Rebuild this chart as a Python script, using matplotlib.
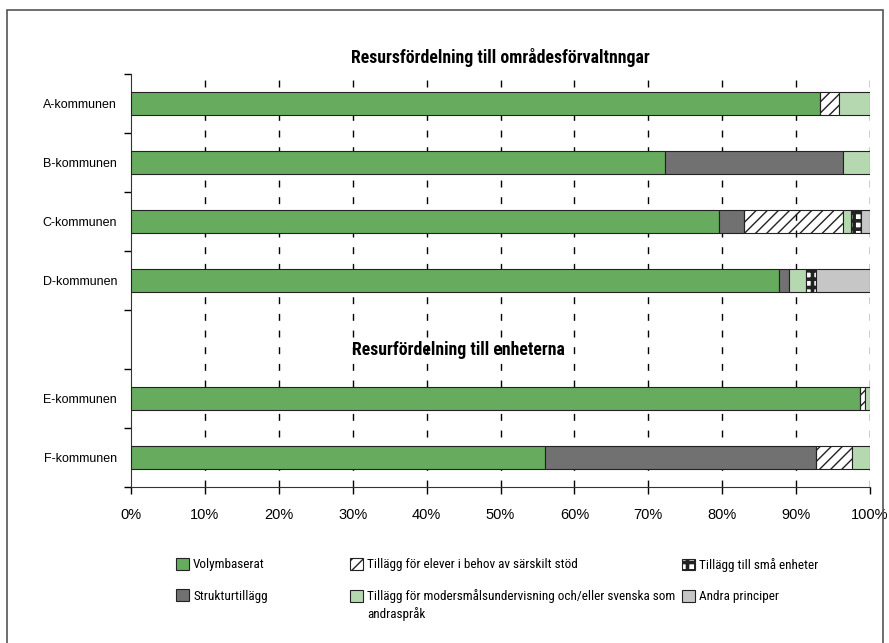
import matplotlib
matplotlib.use("Agg")
import matplotlib.pyplot as plt
from matplotlib.patches import Patch, Rectangle
from matplotlib.font_manager import findfont, FontProperties

# categories (row 4 is the empty spacer row holding the second heading)
kommuner = ["A-kommunen", "B-kommunen", "C-kommunen", "D-kommunen", "", "E-kommunen", "F-kommunen"]

# shares in percent, one list per principle
volym = [93.2, 72.3, 79.5, 87.7, 0, 98.7, 56.0]
struktur = [0.0, 24.0, 3.5, 1.3, 0, 0.0, 36.7]
sarskilt_stod = [2.6, 0.0, 13.3, 0.0, 0, 0.6, 4.9]
modersmal = [4.2, 3.7, 1.1, 2.4, 0, 0.7, 2.4]
sma_enheter = [0.0, 0.0, 1.4, 1.3, 0, 0.0, 0.0]
andra = [0.0, 0.0, 1.2, 7.3, 0, 0.0, 0.0]

serier = [
    ("Volymbaserat", volym),
    ("Strukturtillägg", struktur),
    ("Tillägg för elever i behov av särskilt stöd", sarskilt_stod),
    ("Tillägg för modersmålsundervisning och/eller svenska som", modersmal),
    ("Tillägg till små enheter", sma_enheter),
    ("Andra principer", andra),
]
label_fortsattning = "andraspråk"  # second line of the fourth legend label

stilar = [
    dict(color="#67ab5f", hatch=None, hlw=1.0),
    dict(color="#717171", hatch=None, hlw=1.0),
    dict(color="none", hatch="///", hlw=1.0),
    dict(color="#b6d8b0", hatch=None, hlw=1.0),
    dict(color="white", hatch="++", hlw=2.6),
    dict(color="#c6c6c6", hatch=None, hlw=1.0),
]

titel1 = "Resursfördelning till områdesförvaltnngar"
titel2 = "Resurfördelning till enheterna"
xtick_labels = ["0%", "10%", "20%", "30%", "40%", "50%", "60%", "70%", "80%", "90%", "100%"]


def pick(*names):
    for n in names:
        try:
            findfont(FontProperties(family=n), fallback_to_default=False)
            return n
        except Exception:
            pass
    return "DejaVu Sans"


narrow = pick("Liberation Sans Narrow", "Roboto Condensed", "DejaVu Sans")
plain = pick("Liberation Sans", "Arial", "DejaVu Sans")

plt.rcParams["font.family"] = [plain, "DejaVu Sans"]


def hatch_lw(p, lw):
    if hasattr(p, "set_hatch_linewidth"):
        p.set_hatch_linewidth(lw)


fig = plt.figure(figsize=(8.89, 6.43), dpi=100)
ax = fig.add_axes([131 / 889, 1 - 487 / 643, 739 / 889, 413 / 643])

ypos = list(range(len(kommuner)))
left = [0.0] * len(kommuner)
for (namn, vals), st in zip(serier, stilar):
    for i, v in enumerate(vals):
        if v <= 0:
            continue
        with plt.rc_context({"hatch.linewidth": st["hlw"]}):
            bars = ax.barh(i, v, left=left[i], height=0.4, color=st["color"], hatch=st["hatch"],
                           edgecolor="#222222", linewidth=0.8, zorder=3)
        for b in bars:
            hatch_lw(b, st["hlw"])
        left[i] += v

ax.set_xlim(0, 100)
ax.set_ylim(len(kommuner) - 0.5, -0.5)

# vertical dashed grid
for x in range(10, 101, 10):
    ax.axvline(x, color="black", linestyle=(0, (5, 7)), linewidth=1.0, zorder=1)

ax.set_xticks(range(0, 101, 10))
ax.set_xticklabels(xtick_labels, fontsize=10.5)
ax.tick_params(axis="x", direction="out", length=5, width=1, pad=10)

ax.set_yticks(ypos)
ax.set_yticklabels(kommuner, fontsize=9)
ax.tick_params(axis="y", which="major", length=0, pad=10)
ax.set_yticks([y - 0.5 for y in range(len(kommuner) + 1)], minor=True)
ax.tick_params(axis="y", which="minor", direction="out", length=5, width=1)

for s in ["top", "right"]:
    ax.spines[s].set_visible(False)
ax.spines["left"].set_color("#333333")
ax.spines["bottom"].set_color("#333333")

ax.set_title(titel1, fontsize=12.8, fontweight="bold", family=narrow, pad=8)
ax.text(44.3, 4.18, titel2, fontsize=12.8, fontweight="bold", family=narrow,
        ha="center", va="center", zorder=4)

# legend in three columns
handles = [Patch(facecolor=st["color"], hatch=st["hatch"], edgecolor="#222222", linewidth=0.8)
           for st in stilar]
labels = [s[0] for s in serier]
cols = [(0, 1, 176), (2, 3, 350), (4, 5, 682)]
legs = []
for a, b, xpx in cols:
    leg = fig.legend([handles[a], handles[b]], [labels[a], labels[b]],
                     loc="upper left", bbox_to_anchor=(xpx / 889, 1 - 558 / 643),
                     frameon=False, handlelength=1.0, handleheight=1.0,
                     handletextpad=0.3, labelspacing=1.35, borderpad=0, borderaxespad=0,
                     prop={"family": narrow, "size": 9.5})
    for p, k in zip(leg.get_patches(), (a, b)):
        hatch_lw(p, stilar[k]["hlw"])
    legs.append(leg)

# second line of the long label, aligned under its first line
fig.canvas.draw()
txt = legs[1].get_texts()[1]
bb = txt.get_window_extent().transformed(fig.transFigure.inverted())
fig.text(bb.x0, bb.y0 - 4 / 643, label_fortsattning, ha="left", va="top",
         family=narrow, fontsize=9.5)

# outer frame
fig.patches.append(Rectangle((7 / 889, -0.05), 876 / 889, 1.05 - 10 / 643, transform=fig.transFigure,
                             fill=False, edgecolor="#555555", linewidth=1.2))

fig.savefig("out.png", dpi=100)
